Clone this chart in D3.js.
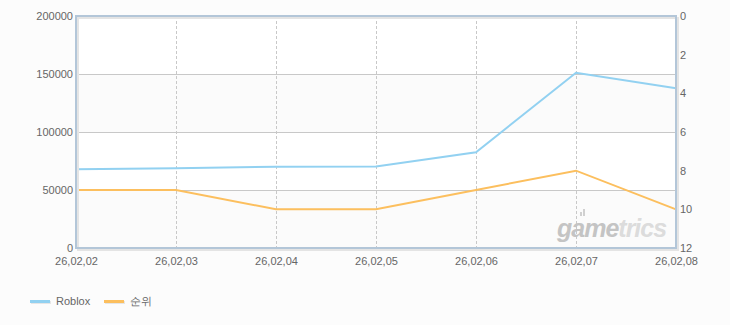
<!DOCTYPE html>
<html lang="ko">
<head>
<meta charset="UTF-8">
<title>Roblox</title>
<script src="https://d3js.org/d3.v7.min.js"></script>
<style type="text/css">
    body { margin: 0; background: #fcfcfc; }
    text { font-family: "Liberation Sans", Arial, sans-serif; font-size: 11px; fill: #666; }
</style>
</head>
<body>
<div id="chart"></div>
<script type="text/javascript">

    // data
    var dates = ["26,02,02", "26,02,03", "26,02,04", "26,02,05", "26,02,06", "26,02,07", "26,02,08"];
    var roblox = [67800, 68700, 70100, 70200, 82600, 151100, 137700];
    var rank = [9, 9, 10, 10, 9, 8, 10];
    var leftTicks = [0, 50000, 100000, 150000, 200000];
    var rightTicks = [0, 2, 4, 6, 8, 10, 12];

    var width = 730, height = 325;
    // plot box (note: "top" is taken by window.top)
    var pLeft = 76, pRight = 676, pTop = 16, pBottom = 248;

    var svg = d3.select("#chart").append("svg")
        .attr("width", width)
        .attr("height", height);

    var x = d3.scalePoint().domain(dates).range([pLeft, pRight]);
    var yL = d3.scaleLinear().domain([0, 200000]).range([pBottom, pTop]);
    var yR = d3.scaleLinear().domain([0, 12]).range([pTop, pBottom]);

    //alternating bands
    for (var i = 0; i < leftTicks.length - 1; i++) {
        svg.append("rect")
            .attr("x", pLeft)
            .attr("y", yL(leftTicks[i + 1]))
            .attr("width", pRight - pLeft)
            .attr("height", yL(leftTicks[i]) - yL(leftTicks[i + 1]))
            .attr("fill", i % 2 == 0 ? "#fbfbfb" : "#ffffff");
    }

    // horizontal grid
    svg.append("g").selectAll("line")
        .data(leftTicks.slice(1, -1))
        .enter().append("line")
        .attr("x1", pLeft).attr("x2", pRight)
        .attr("y1", function(d){ return yL(d) + 0.5; })
        .attr("y2", function(d){ return yL(d) + 0.5; })
        .attr("stroke", "#c8c8c8");

    // vertical dashed grid
    svg.append("g").selectAll("line")
        .data(dates.slice(1, -1))
        .enter().append("line")
        .attr("x1", function(d){ return x(d) + 0.5; })
        .attr("x2", function(d){ return x(d) + 0.5; })
        .attr("y1", pTop).attr("y2", pBottom)
        .attr("stroke", "#c8c8c8")
        .attr("stroke-dasharray", "3,2");

    // watermark
    var wm = svg.append("text")
        .attr("x", 557).attr("y", 237)
        .style("font-size", "25px")
        .style("font-weight", "bold")
        .style("font-style", "italic")
        .style("letter-spacing", "-1px");
    wm.append("tspan").text("game").style("fill", "#c4c4c4");
    wm.append("tspan").text("trics").style("fill", "#dcdcdc");
    svg.append("rect").attr("x", 583).attr("y", 209).attr("width", 2).attr("height", 7).attr("fill", "#d0d0d0");
    svg.append("rect").attr("x", 580).attr("y", 212).attr("width", 2).attr("height", 4).attr("fill", "#d0d0d0");

    // lines
    var lineL = d3.line()
        .x(function(d, i){ return x(dates[i]); })
        .y(function(d){ return yL(d); });
    var lineR = d3.line()
        .x(function(d, i){ return x(dates[i]); })
        .y(function(d){ return yR(d); });

    svg.append("path").datum(roblox)
        .attr("d", lineL)
        .attr("fill", "none")
        .attr("stroke", "#92d1f1")
        .attr("stroke-width", 2);
    svg.append("path").datum(rank)
        .attr("d", lineR)
        .attr("fill", "none")
        .attr("stroke", "#fcbf5e")
        .attr("stroke-width", 2);

    // frame with a soft shadow
    svg.append("rect")
        .attr("x", pLeft + 2).attr("y", pTop + 2)
        .attr("width", pRight - pLeft).attr("height", pBottom - pTop)
        .attr("fill", "none").attr("stroke", "#e4e4e4").attr("stroke-width", 2);
    svg.append("rect")
        .attr("x", pLeft).attr("y", pTop)
        .attr("width", pRight - pLeft).attr("height", pBottom - pTop)
        .attr("fill", "none").attr("stroke", "#b3c6d8").attr("stroke-width", 2);

    // axes
    var axL = svg.append("g")
        .attr("transform", "translate(" + (pLeft - 3) + ",0)")
        .call(d3.axisLeft(yL).tickValues(leftTicks).tickSize(0).tickPadding(0).tickFormat(d3.format("d")));
    var axR = svg.append("g")
        .attr("transform", "translate(" + (pRight + 4) + ",0)")
        .call(d3.axisRight(yR).tickValues(rightTicks).tickSize(0).tickPadding(0));
    var axB = svg.append("g")
        .attr("transform", "translate(0," + (pBottom + 3) + ")")
        .call(d3.axisBottom(x).tickSize(0).tickPadding(6));
    [axL, axR, axB].forEach(function(a){
        a.select(".domain").remove();
        a.selectAll("text").attr("fill", "#666").style("font-size", "11px");
    });

    // legend
    var series = [{name: "Roblox", color: "#92d1f1", x: 30}, {name: "순위", color: "#fcbf5e", x: 104}];
    var lg = svg.append("g").selectAll("g").data(series).enter().append("g");
    lg.append("rect")
        .attr("x", function(d){ return d.x + 1; }).attr("y", 301)
        .attr("width", 20).attr("height", 3).attr("fill", "#e6e6e6");
    lg.append("rect")
        .attr("x", function(d){ return d.x; }).attr("y", 300)
        .attr("width", 20).attr("height", 3).attr("fill", function(d){ return d.color; });
    lg.append("text")
        .attr("x", function(d){ return d.x + 26; }).attr("y", 305)
        .text(function(d){ return d.name; });

</script>
</body>
</html>
